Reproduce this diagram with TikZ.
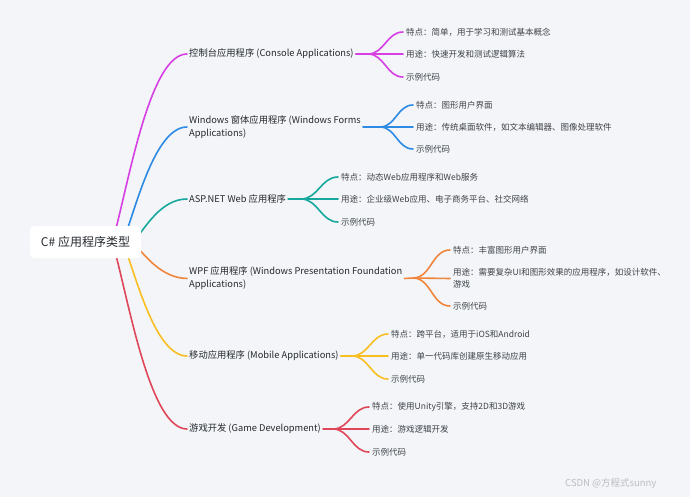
\documentclass[tikz,border=0pt]{standalone}
\usepackage{fontspec}
\setmainfont{Noto Sans CJK SC}
\usetikzlibrary{backgrounds,calc}
\definecolor{bg}{HTML}{F3F5F8}
\definecolor{txt}{HTML}{25292E}
\definecolor{txttwo}{HTML}{3E4349}
\definecolor{cA}{HTML}{D63FE4}
\definecolor{cB}{HTML}{2E8BE3}
\definecolor{cC}{HTML}{16A89C}
\definecolor{cD}{HTML}{F0853C}
\definecolor{cE}{HTML}{F8BE22}
\definecolor{cF}{HTML}{DF4659}
\definecolor{wm}{HTML}{B9BDC2}
\begin{document}
\begin{tikzpicture}[x=1pt,y=-1pt,
  conn/.style={line width=1.6pt, line cap=round},
  rootnode/.style={fill=white, rounded corners=4pt, minimum width=111pt, minimum height=32pt, inner sep=0pt, font=\fontsize{12}{14}\selectfont, text=txt},
  branch/.style={anchor=west, inner xsep=2pt, inner ysep=1pt, align=left, font=\fontsize{9.3}{13}\selectfont, text=txt},
  leaf/.style={anchor=west, inner xsep=3pt, inner ysep=1pt, align=left, font=\fontsize{8.5}{11.5}\selectfont, text=txttwo},
  lk/.style={conn},
]
\useasboundingbox (0,0) rectangle (690,497);
\begin{scope}[on background layer]
  \fill[bg] (0,0) rectangle (690,497);
\end{scope}

% root
\node[rootnode] (root) at (85.5,242) {C\# 应用程序类型};

% branches
\node[branch] (b1) at (187,54) {控制台应用程序 (Console Applications)};
\node[branch] (b2) at (187,127) {Windows 窗体应用程序 (Windows Forms\\Applications)};
\node[branch] (b3) at (187,199) {ASP.NET Web 应用程序};
\node[branch] (b4) at (187,278.5) {WPF 应用程序 (Windows Presentation Foundation\\Applications)};
\node[branch] (b5) at (187,356) {移动应用程序 (Mobile Applications)};
\node[branch] (b6) at (187,429) {游戏开发 (Game Development)};

% forks
\coordinate (f1) at (368,54);
\coordinate (f2) at (380,127);
\coordinate (f3) at (301,199);
\coordinate (f4) at (413,278);
\coordinate (f5) at (352,356);
\coordinate (f6) at (333,429);

% leaves
\node[leaf] (l11) at (403,32) {特点：简单，用于学习和测试基本概念};
\node[leaf] (l12) at (403,54) {用途：快速开发和测试逻辑算法};
\node[leaf] (l13) at (403,77) {示例代码};

\node[leaf] (l21) at (413,105) {特点：图形用户界面};
\node[leaf] (l22) at (413,127) {用途：传统桌面软件，如文本编辑器、图像处理软件};
\node[leaf] (l23) at (413,149) {示例代码};

\node[leaf] (l31) at (338,177) {特点：动态Web应用程序和Web服务};
\node[leaf] (l32) at (338,199) {用途：企业级Web应用、电子商务平台、社交网络};
\node[leaf] (l33) at (338,222) {示例代码};

\node[leaf] (l41) at (450,250) {特点：丰富图形用户界面};
\node[leaf] (l42) at (450,278.5) {用途：需要复杂UI和图形效果的应用程序，如设计软件、\\游戏};
\node[leaf] (l43) at (450,306) {示例代码};

\node[leaf] (l51) at (388,334) {特点：跨平台，适用于iOS和Android};
\node[leaf] (l52) at (388,356) {用途：单一代码库创建原生移动应用};
\node[leaf] (l53) at (388,379) {示例代码};

\node[leaf] (l61) at (369,407) {特点：使用Unity引擎，支持2D和3D游戏};
\node[leaf] (l62) at (369,429) {用途：游戏逻辑开发};
\node[leaf] (l63) at (369,452) {示例代码};

% watermark
\node[anchor=west, inner sep=0pt, font=\fontsize{9.5}{11}\selectfont, text=wm] (wmark) at (565,484) {CSDN @方程式sunny};

% root start points (hidden under the root box)
\coordinate (s1) at (114,236);
\coordinate (s2) at (125,236);
\coordinate (s3) at (135,240);
\coordinate (s4) at (135,245);
\coordinate (s5) at (125,248);
\coordinate (s6) at (114,248);

\begin{scope}[on background layer]
  \draw[conn,cA] (s1) .. controls (129,181) and (150,54) .. (b1.west);
  \draw[conn,cB] (s2) .. controls (137,203) and (156,127) .. (b2.west);
  \draw[conn,cC] (s3) .. controls (145,228) and (161,199) .. (b3.west);
  \draw[conn,cD] (s4) .. controls (145,255) and (161,278) .. (b4.west);
  \draw[conn,cE] (s5) .. controls (137,280) and (156,356) .. (b5.west);
  \draw[conn,cF] (s6) .. controls (129,302) and (150,429) .. (b6.west);
\end{scope}

% branch to fork
\draw[conn,cA] (b1.east) -- (f1);
\draw[conn,cB] (b2.east) -- (f2);
\draw[conn,cC] (b3.east) -- (f3);
\draw[conn,cD] (b4.east) -- (f4);
\draw[conn,cE] (b5.east) -- (f5);
\draw[conn,cF] (b6.east) -- (f6);

% fork to leaves
\foreach \f/\c/\a/\b/\d in {f1/cA/l11/l12/l13, f2/cB/l21/l22/l23, f3/cC/l31/l32/l33, f4/cD/l41/l42/l43, f5/cE/l51/l52/l53, f6/cF/l61/l62/l63}{
  \draw[lk,\c] (\f) to[out=0,in=180] (\a.west);
  \draw[lk,\c] (\f) -- (\b.west);
  \draw[lk,\c] (\f) to[out=0,in=180] (\d.west);
}
\end{tikzpicture}
\end{document}
